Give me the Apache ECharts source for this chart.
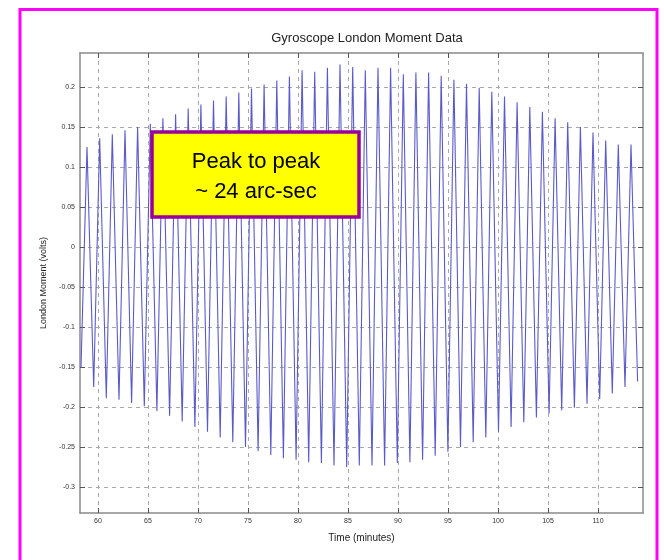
<!DOCTYPE html>
<html>
<head>
<meta charset="utf-8">
<script src="https://cdn.jsdelivr.net/npm/echarts@6/dist/echarts.min.js"></script>
<style>html,body{margin:0;padding:0;background:#fff;}#c{width:664px;height:560px;}</style>
</head>
<body>
<div id="c"></div>
<script>
// ---- data ----
const titleText = 'Gyroscope London Moment Data';
const xName = 'Time (minutes)';
const yName = 'London Moment (volts)';
const noteLines = ['Peak to peak', '~ 24 arc-sec'];

const xTicks = [60, 65, 70, 75, 80, 85, 90, 95, 100, 105, 110];
const yTicks = [-0.3, -0.25, -0.2, -0.15, -0.1, -0.05, 0, 0.05, 0.1, 0.15, 0.2];

// times (minutes) and values (volts) of the upper turning points
const peakTimes = [58.90, 60.17, 61.43, 62.70, 63.96, 65.23, 66.49, 67.76, 69.02, 70.29,
  71.55, 72.82, 74.08, 75.35, 76.61, 77.88, 79.14, 80.41, 81.67, 82.94,
  84.20, 85.47, 86.73, 88.00, 89.26, 90.53, 91.79, 93.06, 94.32, 95.59,
  96.85, 98.12, 99.38, 100.65, 101.91, 103.18, 104.44, 105.71, 106.97, 108.24,
  109.50, 110.77, 112.03, 113.30];
const peakValues = [0.125, 0.136, 0.141, 0.146, 0.150, 0.154, 0.161, 0.166, 0.173, 0.178,
  0.183, 0.188, 0.193, 0.198, 0.203, 0.208, 0.213, 0.221, 0.219, 0.224,
  0.228, 0.225, 0.221, 0.224, 0.224, 0.216, 0.218, 0.218, 0.214, 0.209,
  0.204, 0.199, 0.194, 0.188, 0.181, 0.175, 0.169, 0.161, 0.156, 0.150,
  0.143, 0.133, 0.128, 0.128];
// times and values of the lower turning points
const troughTimes = [58.30, 59.57, 60.83, 62.10, 63.36, 64.63, 65.89, 67.16, 68.42, 69.69,
  70.95, 72.22, 73.48, 74.75, 76.01, 77.28, 78.54, 79.81, 81.07, 82.34,
  83.60, 84.87, 86.13, 87.40, 88.66, 89.93, 91.19, 92.46, 93.72, 94.99,
  96.25, 97.52, 98.78, 100.05, 101.31, 102.58, 103.84, 105.11, 106.37, 107.64,
  108.90, 110.17, 111.43, 112.70, 113.96];
const troughValues = [-0.151, -0.175, -0.189, -0.191, -0.195, -0.199, -0.205, -0.211, -0.218, -0.225,
  -0.231, -0.238, -0.244, -0.250, -0.255, -0.260, -0.264, -0.266, -0.269, -0.270,
  -0.273, -0.275, -0.273, -0.273, -0.273, -0.270, -0.269, -0.266, -0.261, -0.256,
  -0.250, -0.244, -0.238, -0.231, -0.225, -0.219, -0.213, -0.208, -0.204, -0.201,
  -0.196, -0.190, -0.183, -0.175, -0.168];

// ---- build the series from the arrays ----
const signal = [];
for (let i = 0; i < troughTimes.length; i++) {
  signal.push([troughTimes[i], troughValues[i]]);
  if (i < peakTimes.length) signal.push([peakTimes[i], peakValues[i]]);
}

const font = 'Liberation Sans, Arial, Helvetica, sans-serif';
const chart = echarts.init(document.getElementById('c'), null, {renderer: 'canvas'});

const xCommon = {
  type: 'value', min: 58.2, max: 114.5,
  axisLine: {show: true, onZero: false, lineStyle: {color: '#8a8a8a', width: 1.5}},
  axisTick: {show: true, inside: true, length: 5, customValues: xTicks, lineStyle: {color: '#555'}}
};
const yCommon = {
  type: 'value', min: -0.3325, max: 0.2425,
  axisLine: {show: true, onZero: false, lineStyle: {color: '#8a8a8a', width: 1.5}},
  axisTick: {show: true, inside: true, length: 5, customValues: yTicks, lineStyle: {color: '#555'}}
};

chart.setOption({
  backgroundColor: '#ffffff',
  animation: false,
  title: {
    text: titleText, left: 362, top: 27, textAlign: 'center',
    textStyle: {fontFamily: font, fontSize: 13, fontWeight: 'normal', color: '#222'}
  },
  grid: {left: 80, right: 21, top: 53, bottom: 47, containLabel: false},
  xAxis: [
    Object.assign({}, xCommon, {
      position: 'bottom',
      name: xName, nameLocation: 'middle', nameGap: 20,
      nameTextStyle: {fontFamily: font, fontSize: 10, color: '#222'},
      axisLabel: {show: true, customValues: xTicks, fontFamily: font, fontSize: 7, color: '#333', margin: 5},
      splitLine: {show: true, lineStyle: {color: '#a8a8a8', type: [4, 4], width: 1}}
    }),
    Object.assign({}, xCommon, {
      position: 'top',
      axisLabel: {show: false},
      splitLine: {show: false}
    })
  ],
  yAxis: [
    Object.assign({}, yCommon, {
      position: 'left',
      name: yName, nameLocation: 'middle', nameGap: 25, nameRotate: 90,
      nameTextStyle: {fontFamily: font, fontSize: 9, color: '#222'},
      axisLabel: {show: true, customValues: yTicks, fontFamily: font, fontSize: 7, color: '#333', margin: 5},
      splitLine: {show: true, lineStyle: {color: '#a8a8a8', type: [4, 4], width: 1}}
    }),
    Object.assign({}, yCommon, {
      position: 'right',
      axisLabel: {show: false},
      splitLine: {show: false}
    })
  ],
  series: [{
    type: 'line',
    xAxisIndex: 0, yAxisIndex: 0,
    data: signal,
    showSymbol: false,
    lineStyle: {color: '#5a5ac8', width: 1.1},
    z: 3
  }],
  graphic: [
    {
      type: 'rect', z: 100,
      shape: {x: 20, y: 9.5, width: 637, height: 600},
      style: {fill: null, stroke: '#ff00ff', lineWidth: 3}
    },
    {
      type: 'rect', z: 100,
      shape: {x: 152, y: 132, width: 207, height: 85},
      style: {fill: '#ffff00', stroke: '#990099', lineWidth: 3.5}
    },
    {
      type: 'text', z: 101,
      x: 256, y: 162,
      style: {text: noteLines[0], fontFamily: font, fontSize: 22, fill: '#000', align: 'center', verticalAlign: 'middle'}
    },
    {
      type: 'text', z: 101,
      x: 256, y: 192,
      style: {text: noteLines[1], fontFamily: font, fontSize: 22, fill: '#000', align: 'center', verticalAlign: 'middle'}
    }
  ]
});
</script>
</body>
</html>
